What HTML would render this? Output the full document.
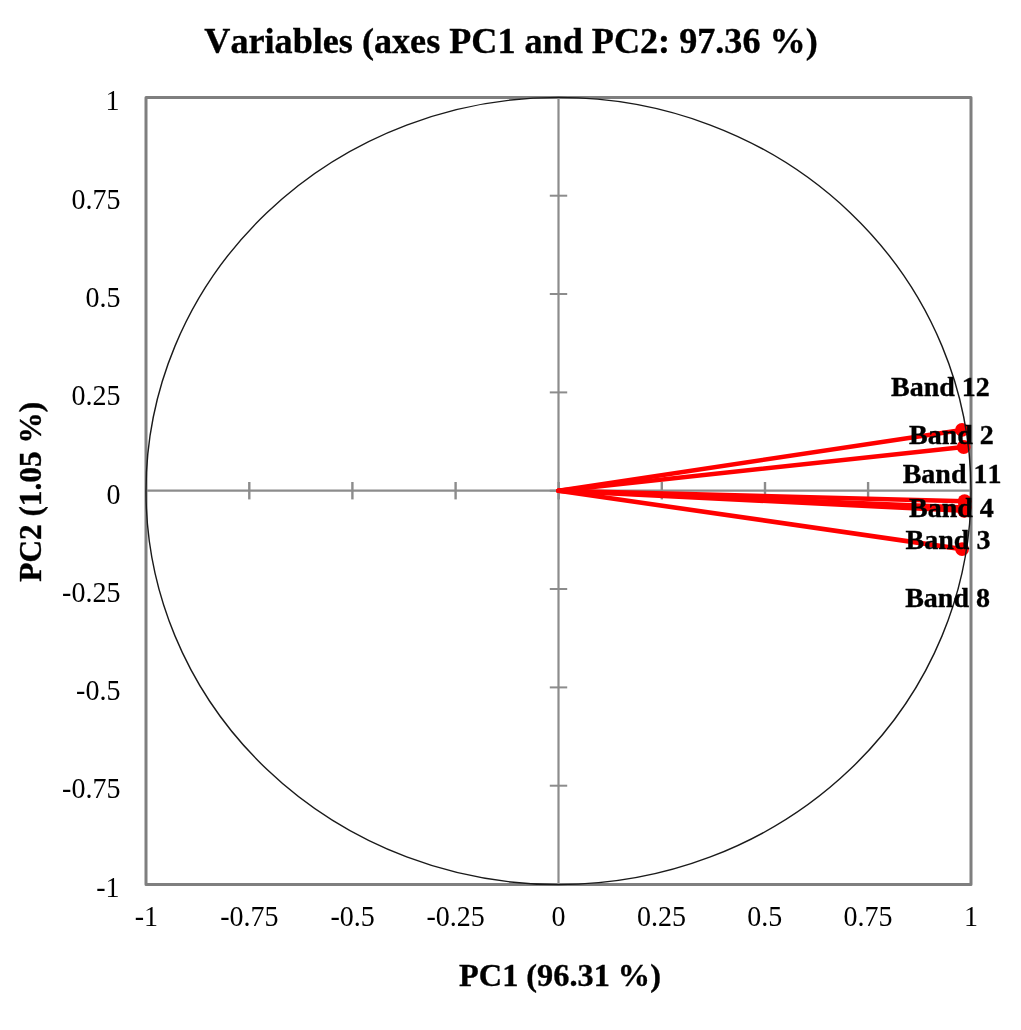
<!DOCTYPE html>
<html><head><meta charset="utf-8"><title>Variables (axes PC1 and PC2: 97.36 %)</title>
<style>
html,body{margin:0;padding:0;background:#fff;}
body{width:1021px;height:1030px;overflow:hidden;}
svg{display:block;}
text{font-family:"Liberation Serif","Times New Roman",serif;fill:#000;font-kerning:none;}
.b{font-weight:bold;stroke:#000;stroke-width:0.35px;}
.t{font-size:28px;}
</style></head><body>
<svg width="1021" height="1030" viewBox="0 0 1021 1030">
<rect width="1021" height="1030" fill="#fff"/>
<!-- plot box -->
<rect x="146.0" y="97.4" width="825.0" height="787.2" fill="none" stroke="#7f7f7f" stroke-width="3" stroke-linejoin="round"/>
<!-- axes -->
<g stroke="#8c8c8c" stroke-width="2.2" fill="none">
<line x1="146.0" y1="490.7" x2="971.0" y2="490.7"/>
<line x1="558.5" y1="97.4" x2="558.5" y2="884.6"/>
<g stroke-width="2">
<line x1="549.8" x2="567.2" y1="195.7" y2="195.7"/>
<line x1="549.8" x2="567.2" y1="294.0" y2="294.0"/>
<line x1="549.8" x2="567.2" y1="392.4" y2="392.4"/>
<line x1="549.8" x2="567.2" y1="490.7" y2="490.7"/>
<line x1="549.8" x2="567.2" y1="589.0" y2="589.0"/>
<line x1="549.8" x2="567.2" y1="687.4" y2="687.4"/>
<line x1="549.8" x2="567.2" y1="785.7" y2="785.7"/>
<line stroke-width="2.4" y1="482.0" y2="499.4" x1="249.3" x2="249.3"/>
<line stroke-width="2.4" y1="482.0" y2="499.4" x1="352.4" x2="352.4"/>
<line stroke-width="2.4" y1="482.0" y2="499.4" x1="455.6" x2="455.6"/>
<line stroke-width="2.4" y1="482.0" y2="499.4" x1="558.7" x2="558.7"/>
<line stroke-width="2.4" y1="482.0" y2="499.4" x1="661.8" x2="661.8"/>
<line stroke-width="2.4" y1="482.0" y2="499.4" x1="765.0" x2="765.0"/>
<line stroke-width="2.4" y1="482.0" y2="499.4" x1="868.1" x2="868.1"/>
</g></g>
<!-- vectors -->
<g stroke="#ff0000" stroke-width="4.6" stroke-linecap="round" fill="#ff0000">
<line x1="558.5" y1="490.7" x2="962" y2="429.9"/>
<line x1="558.5" y1="490.7" x2="963.7" y2="447.0"/>
<line x1="558.5" y1="490.7" x2="964.6" y2="501.2"/>
<line x1="558.5" y1="490.7" x2="964.6" y2="507.5"/>
<line x1="558.5" y1="490.7" x2="964.2" y2="510.8"/>
<line x1="558.5" y1="490.7" x2="962.1" y2="549.1"/>
<g stroke="none">
<circle cx="962" cy="429.9" r="6.9"/>
<circle cx="963.7" cy="447.0" r="6.9"/>
<circle cx="964.6" cy="501.2" r="6.9"/>
<circle cx="964.6" cy="507.5" r="6.9"/>
<circle cx="964.2" cy="510.8" r="6.9"/>
<circle cx="962.1" cy="549.1" r="6.9"/>
</g></g>
<!-- circle -->
<ellipse cx="558.5" cy="491" rx="412.5" ry="393.6" fill="none" stroke="#1a1a1a" stroke-width="1.4"/>
<!-- title -->
<text class="b" x="511" y="52.6" font-size="36.15" text-anchor="middle">Variables (axes PC1 and PC2: 97.36 %)</text>
<!-- y tick labels -->
<g class="t" text-anchor="end">
<text transform="translate(119.5,109.9) scale(1,1.04)">1</text>
<text transform="translate(120.4,208.9) scale(1,1.04)">0.75</text>
<text transform="translate(120.4,306.9) scale(1,1.04)">0.5</text>
<text transform="translate(120.4,404.9) scale(1,1.04)">0.25</text>
<text transform="translate(120.4,503.9) scale(1,1.04)">0</text>
<text transform="translate(120.4,601.9) scale(1,1.04)">-0.25</text>
<text transform="translate(120.4,699.9) scale(1,1.04)">-0.5</text>
<text transform="translate(120.4,797.9) scale(1,1.04)">-0.75</text>
<text transform="translate(119.5,896.9) scale(1,1.04)">-1</text>
</g>
<!-- x tick labels -->
<g class="t" text-anchor="middle">
<text transform="translate(146.3,926) scale(1,1.04)">-1</text>
<text transform="translate(249.4,926) scale(1,1.04)">-0.75</text>
<text transform="translate(352.6,926) scale(1,1.04)">-0.5</text>
<text transform="translate(455.7,926) scale(1,1.04)">-0.25</text>
<text transform="translate(558.5,926) scale(1,1.04)">0</text>
<text transform="translate(661.6,926) scale(1,1.04)">0.25</text>
<text transform="translate(764.8,926) scale(1,1.04)">0.5</text>
<text transform="translate(867.9,926) scale(1,1.04)">0.75</text>
<text transform="translate(971.0,926) scale(1,1.04)">1</text>
</g>
<!-- axis titles -->
<text class="b" x="560" y="986" font-size="32.3" text-anchor="middle">PC1 (96.31 %)</text>
<text class="b" font-size="31.6" text-anchor="middle" transform="translate(40.5,491.8) rotate(-90) scale(0.99,1)">PC2 (1.05 %)</text>
<!-- labels -->
<g class="b" font-size="28">
<text x="891" y="396.0">Band 12</text>
<text x="909" y="444.0">Band 2</text>
<text x="902.7" y="483.1">Band 11</text>
<text x="909" y="516.8">Band 4</text>
<text x="905.6" y="548.9">Band 3</text>
<text x="905.2" y="607.1">Band 8</text>
</g>
</svg>
</body></html>
